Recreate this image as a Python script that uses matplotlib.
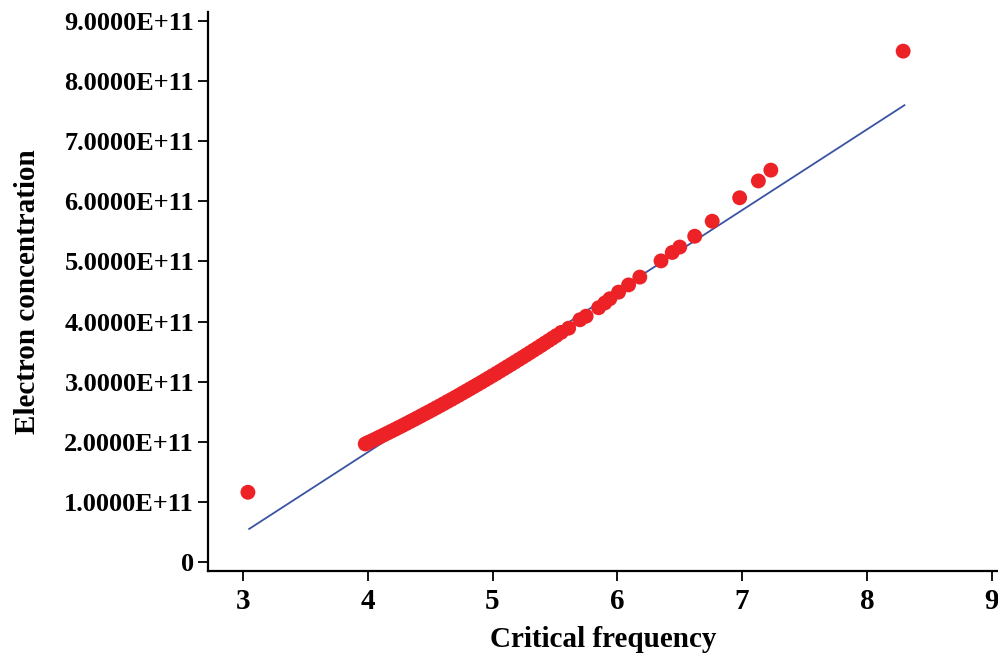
import matplotlib.pyplot as plt
from matplotlib.ticker import FuncFormatter

# Valores: frequência crítica e concentração de elétrons
freq = [3.04,
        3.98, 4.00, 4.02, 4.05, 4.08, 4.10, 4.13, 4.16, 4.19, 4.22,
        4.25, 4.28, 4.31, 4.34, 4.37, 4.40, 4.43, 4.46, 4.49, 4.52,
        4.55, 4.58, 4.61, 4.64, 4.67, 4.70, 4.73, 4.76, 4.79, 4.82,
        4.85, 4.88, 4.91, 4.94, 4.97, 5.00, 5.03, 5.06, 5.09, 5.12,
        5.15, 5.18, 5.21, 5.24, 5.27, 5.30, 5.33, 5.36, 5.39, 5.42,
        5.45, 5.48, 5.51, 5.55,
        5.61, 5.70, 5.75, 5.85, 5.90, 5.94, 6.01, 6.09, 6.18, 6.35,
        6.44, 6.50, 6.62, 6.76, 6.98, 7.13, 7.23, 8.29]
conc = [1.16,
        1.964, 1.984, 2.004, 2.034, 2.064, 2.084, 2.115, 2.146, 2.177, 2.208,
        2.240, 2.271, 2.303, 2.336, 2.368, 2.401, 2.434, 2.467, 2.500, 2.533,
        2.567, 2.601, 2.635, 2.670, 2.704, 2.739, 2.774, 2.810, 2.845, 2.881,
        2.917, 2.953, 2.989, 3.026, 3.063, 3.100, 3.137, 3.175, 3.213, 3.251,
        3.289, 3.327, 3.366, 3.405, 3.444, 3.483, 3.523, 3.562, 3.602, 3.643,
        3.683, 3.724, 3.765, 3.820,
        3.89, 4.03, 4.09, 4.23, 4.31, 4.38, 4.49, 4.61, 4.74, 5.01,
        5.15, 5.24, 5.42, 5.67, 6.06, 6.34, 6.52, 8.50]  # x 1e11
conc = [c * 1e11 for c in conc]

# Reta ajustada
fit_x = [3.05, 8.30]
fit_y = [0.55e11, 7.60e11]

x_ticks = [3, 4, 5, 6, 7, 8, 9]
y_ticks = [0, 1e11, 2e11, 3e11, 4e11, 5e11, 6e11, 7e11, 8e11, 9e11]

plt.rcParams['font.family'] = ['Liberation Serif', 'DejaVu Serif']
plt.rcParams['font.weight'] = 'bold'

fig = plt.figure(figsize=(9.98, 6.56), dpi=100)
ax = fig.add_axes([0.2084, 0.1296, 0.7916, 0.852])

ax.plot(fit_x, fit_y, color='#3A53A4', linewidth=1.3, zorder=2)
ax.scatter(freq, conc, s=115, color='#ED2227', edgecolors='none', zorder=3)

ax.set_xlim(2.72, 9.05)
ax.set_ylim(-0.15e11, 9.15e11)
ax.set_xticks(x_ticks)
ax.set_yticks(y_ticks)

def fmt_y(v, pos):
    if v == 0:
        return '0'
    return '%.4E' % v

ax.yaxis.set_major_formatter(FuncFormatter(fmt_y))

for lab in ax.get_xticklabels():
    lab.set_fontsize(21)
    lab.set_fontweight('bold')
for lab in ax.get_yticklabels():
    lab.set_fontsize(19)
    lab.set_fontweight('bold')

ax.spines['top'].set_visible(False)
ax.spines['right'].set_visible(False)
ax.spines['left'].set_linewidth(1.6)
ax.spines['bottom'].set_linewidth(1.6)
ax.tick_params(direction='out', length=7, width=1.3, pad=3)
ax.tick_params(axis='x', pad=5)

ax.set_xlabel('Critical frequency', fontsize=21, fontweight='bold', labelpad=8)
ax.set_ylabel('Electron concentration', fontsize=21, fontweight='bold', labelpad=17)

fig.savefig('out.png', dpi=100)
